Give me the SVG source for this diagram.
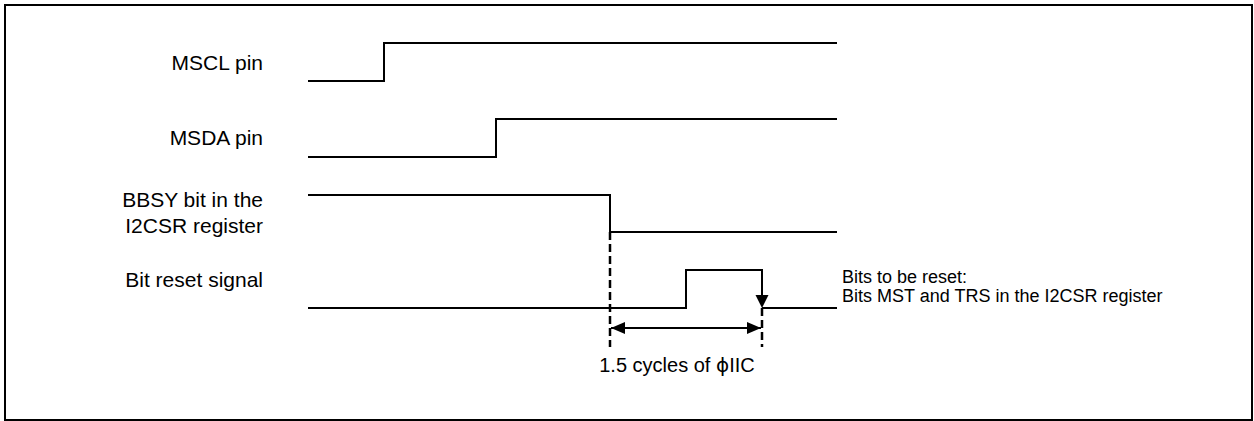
<svg xmlns="http://www.w3.org/2000/svg" width="1254" height="421" viewBox="0 0 1254 421">
  <defs>
    <style>
      .sig { fill: none; stroke: #000; stroke-width: 2; stroke-linejoin: miter; }
      .dash { fill: none; stroke: #000; stroke-width: 2.5; stroke-dasharray: 8 4; }
      .lbl { font-family: "Liberation Sans", Arial, sans-serif; font-size: 21px; fill: #000; }
      .note { font-family: "Liberation Sans", Arial, sans-serif; font-size: 18px; fill: #000; }
    </style>
    <marker id="ah" viewBox="0 0 14 12" refX="14" refY="6" markerWidth="14" markerHeight="12" markerUnits="userSpaceOnUse" orient="auto-start-reverse">
      <path d="M0 0 L14 6 L0 12 Z" fill="#000"/>
    </marker>
  </defs>
  <rect x="5" y="5" width="1247" height="415" fill="#fff" stroke="#000" stroke-width="2"/>

  <g id="mscl">
    <text class="lbl" x="263" y="70" text-anchor="end">MSCL pin</text>
    <path class="sig" d="M308 81 H384 V43 H837"/>
  </g>
  <g id="msda">
    <text class="lbl" x="263" y="145" text-anchor="end">MSDA pin</text>
    <path class="sig" d="M308 157 H496 V119 H837"/>
  </g>
  <g id="bbsy">
    <text class="lbl" x="263" y="207" text-anchor="end">BBSY bit in the</text>
    <text class="lbl" x="263" y="233" text-anchor="end">I2CSR register</text>
    <path class="sig" d="M308 195 H610 V232 H837"/>
  </g>
  <g id="bitreset">
    <text class="lbl" x="263" y="287" text-anchor="end">Bit reset signal</text>
    <path class="sig" d="M308 308 H686 V270 H762 V296"/>
    <path class="sig" d="M762 308 H837"/>
    <text class="note" x="842" y="283">Bits to be reset:</text>
    <text class="note" x="842" y="302">Bits MST and TRS in the I2CSR register</text>
  </g>
  <g id="connectors">
    <path d="M755.5 295 L768.5 295 L762 308 Z" fill="#000"/>
    <line class="dash" x1="610" y1="232" x2="610" y2="347"/>
    <line class="dash" x1="762" y1="308" x2="762" y2="347"/>
    <line x1="611" y1="328" x2="761" y2="328" stroke="#000" stroke-width="2" marker-start="url(#ah)" marker-end="url(#ah)"/>
  </g>
  <g id="period">
    <text class="lbl" x="677" y="372" text-anchor="middle" style="font-size:20px">1.5 cycles of <tspan font-family="'DejaVu Sans', sans-serif">ϕ</tspan>IIC</text>
  </g>
</svg>
